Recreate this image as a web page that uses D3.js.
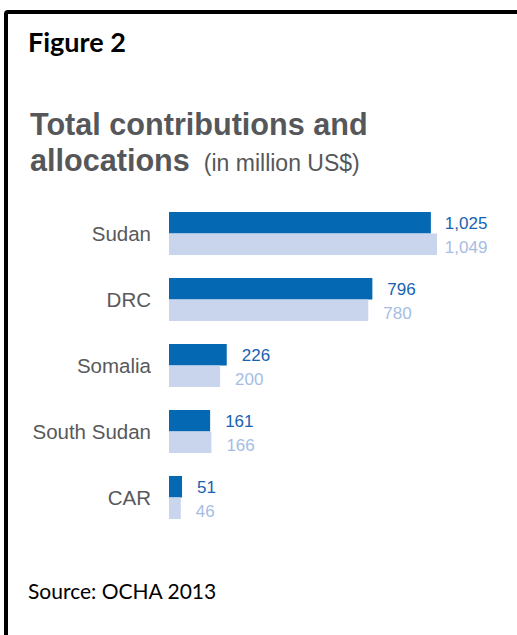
<!DOCTYPE html>
<html>
<head>
<meta charset="utf-8">
<script src="https://cdn.jsdelivr.net/npm/d3@7"></script>
<style>
  html, body { margin: 0; padding: 0; background: #fff; }
  svg { display: block; }
</style>
</head>
<body>
<svg id="chart" width="517" height="635"></svg>
<script>
// Humanitarian pooled funds: contributions vs allocations, million US$
const categories = ["Sudan", "DRC", "Somalia", "South Sudan", "CAR"];
const contributions = [1025, 796, 226, 161, 51];
const allocations = [1049, 780, 200, 166, 46];
const seriesKeys = ["contributions", "allocations"];
const valueFormat = d3.format(",");

const svg = d3.select("#chart");

// Document frame
svg.append("rect")
  .attr("x", 6).attr("y", 12)
  .attr("width", 600).attr("height", 700)
  .attr("rx", 2)
  .attr("fill", "none")
  .attr("stroke", "#000")
  .attr("stroke-width", 4);

svg.append("text")
  .attr("x", 28).attr("y", 52)
  .attr("font-family", "Lato, 'Open Sans', sans-serif")
  .attr("font-weight", 700)
  .attr("font-size", 27)
  .attr("fill", "#000")
  .text("Figure 2");

// Chart title
const title = svg.append("text")
  .attr("font-family", "'Liberation Sans', Arial, sans-serif")
  .attr("fill", "#55575a");
title.append("tspan")
  .attr("x", 30).attr("y", 135)
  .attr("font-weight", 700).attr("font-size", 30.6)
  .text("Total contributions and");
title.append("tspan")
  .attr("x", 30).attr("y", 171)
  .attr("font-weight", 700).attr("font-size", 30.6)
  .text("allocations");
title.append("tspan")
  .attr("dx", 14)
  .attr("font-weight", 400).attr("font-size", 23)
  .text("(in million US$)");

const x = d3.scaleLinear()
  .domain([0, d3.max(allocations.concat(contributions))])
  .range([169, 437]);

const y = d3.scaleBand()
  .domain(categories)
  .range([212, 519])
  .paddingInner(0.348)
  .paddingOuter(0);

const sub = d3.scaleBand()
  .domain(seriesKeys)
  .range([0, y.bandwidth()]);

const colors = { contributions: "#0568b3", allocations: "#c8d5ed" };
const labelColors = { contributions: "#1762b0", allocations: "#a6bde4" };

const rows = categories.map((c, i) => ({
  category: c,
  contributions: contributions[i],
  allocations: allocations[i]
}));

const groups = svg.selectAll("g.row")
  .data(rows)
  .join("g")
  .attr("class", "row")
  .attr("transform", d => `translate(0,${y(d.category)})`);

groups.append("text")
  .attr("x", 151)
  .attr("y", y.bandwidth() / 2)
  .attr("dy", "0.36em")
  .attr("text-anchor", "end")
  .attr("font-family", "'Liberation Sans', Arial, sans-serif")
  .attr("font-size", 20.5)
  .attr("fill", "#58595b")
  .text(d => d.category);

groups.selectAll("rect.bar")
  .data(d => seriesKeys.map(k => ({ key: k, value: d[k] })))
  .join("rect")
  .attr("class", "bar")
  .attr("x", x(0))
  .attr("y", d => sub(d.key))
  .attr("width", d => x(d.value) - x(0))
  .attr("height", sub.bandwidth())
  .attr("fill", d => colors[d.key]);

const labelLimit = x(contributions[0]) + 14;
groups.selectAll("text.value")
  .data(d => seriesKeys.map(k => ({ key: k, value: d[k] })))
  .join("text")
  .attr("class", "value")
  .attr("x", d => Math.min(x(d.value) + 15, labelLimit))
  .attr("y", d => sub(d.key) + sub.bandwidth() / 2 + (d.key === "allocations" ? 3 : 0))
  .attr("dy", "0.36em")
  .attr("font-family", "'Liberation Sans', Arial, sans-serif")
  .attr("font-size", 17)
  .attr("fill", d => labelColors[d.key])
  .text(d => valueFormat(d.value));

svg.append("text")
  .attr("x", 28).attr("y", 599)
  .attr("font-family", "Lato, 'Open Sans', sans-serif")
  .attr("font-size", 21)
  .attr("fill", "#000")
  .text("Source: OCHA 2013");
</script>
</body>
</html>
